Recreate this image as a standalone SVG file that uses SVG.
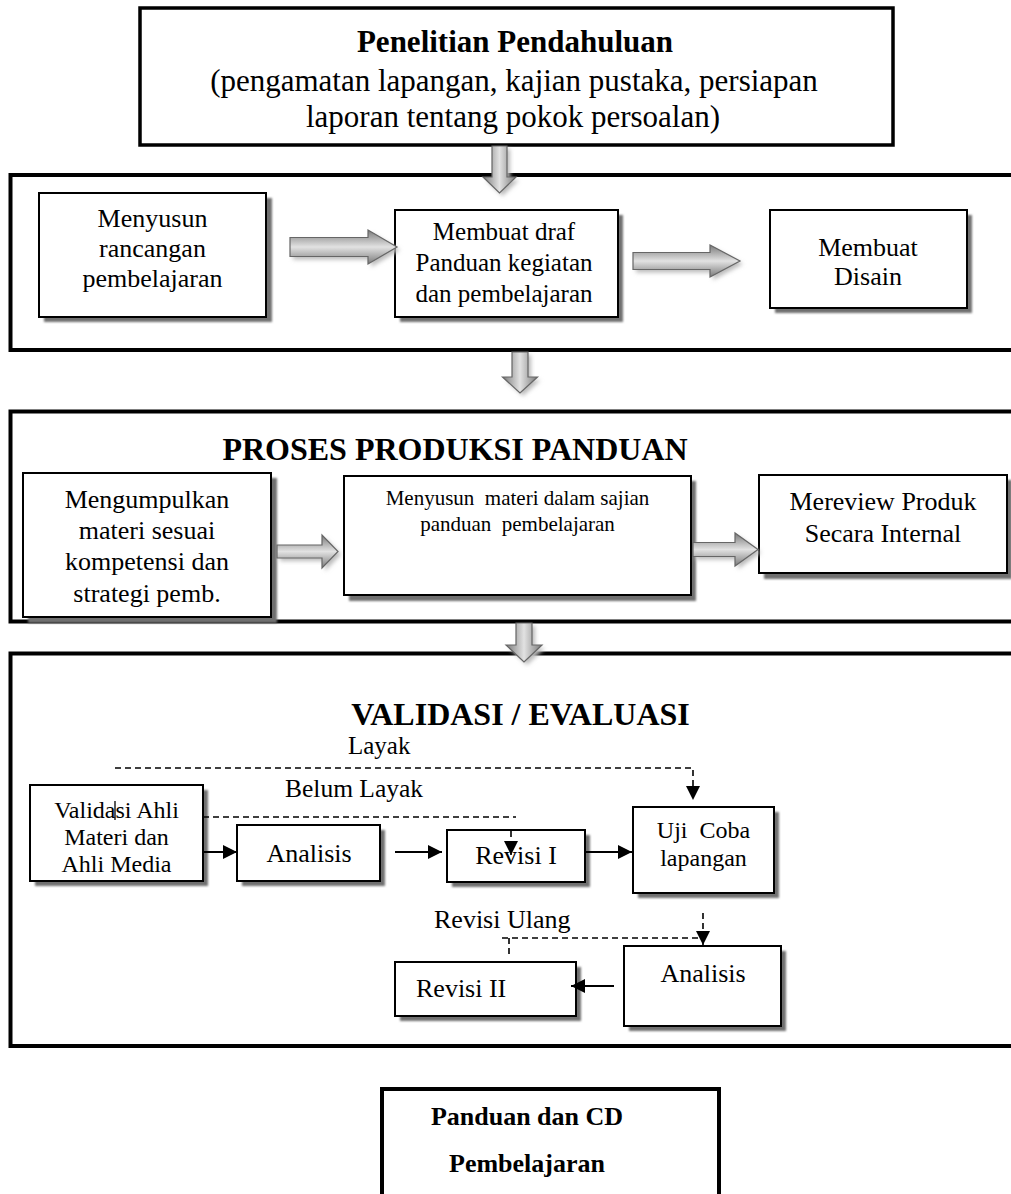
<svg xmlns="http://www.w3.org/2000/svg" width="1011" height="1194" viewBox="0 0 1011 1194">
<defs>
<style>
text{font-family:"Liberation Serif","Times New Roman",serif;fill:#000;}
.c{text-anchor:middle;}
.b{font-weight:bold;}
.panel{fill:none;stroke:#000;stroke-width:4;}
.box{fill:#fff;stroke:#000;stroke-width:2;}
.shd{fill:#707070;filter:url(#blur);}
.ha{fill:url(#gh);stroke:#666;stroke-width:1.2;}
.va{fill:url(#gv);stroke:#666;stroke-width:1.2;}
.ash{fill:#bbb;filter:url(#blur2);}
.ln{fill:none;stroke:#000;stroke-width:2;}
.dl{fill:none;stroke:#000;stroke-width:1.6;stroke-dasharray:6 4;}
</style>
<filter id="blur" x="-10%" y="-10%" width="120%" height="120%"><feGaussianBlur stdDeviation="1"/></filter>
<filter id="blur2" x="-20%" y="-20%" width="140%" height="140%"><feGaussianBlur stdDeviation="2"/></filter>
<linearGradient id="gh" x1="0" y1="0" x2="0" y2="1">
<stop offset="0" stop-color="#7a7a7a"/><stop offset="0.5" stop-color="#e2e2e2"/><stop offset="1" stop-color="#7a7a7a"/>
</linearGradient>
<linearGradient id="gv" x1="0" y1="0" x2="1" y2="0">
<stop offset="0" stop-color="#7a7a7a"/><stop offset="0.5" stop-color="#e2e2e2"/><stop offset="1" stop-color="#7a7a7a"/>
</linearGradient>
<marker id="ahs" viewBox="0 0 10 10" refX="10" refY="5" markerWidth="15" markerHeight="14" markerUnits="userSpaceOnUse" orient="auto">
<path d="M0,0 L10,5 L0,10 Z" fill="#000"/>
</marker>
</defs>

<!-- Panels -->
<g id="panel-top">
<rect x="140" y="8" width="753" height="137" class="panel" style="stroke-width:3.5"/>
<text x="515" y="52" class="c b" font-size="31">Penelitian Pendahuluan</text>
<text x="514" y="91" class="c" font-size="31">(pengamatan lapangan, kajian pustaka, persiapan</text>
<text x="513" y="127" class="c" font-size="31">laporan tentang pokok persoalan)</text>
</g>
<g id="panel-rancangan">
<rect x="10.5" y="175" width="1020" height="175" class="panel"/>
</g>
<g id="panel-produksi">
<rect x="10.5" y="411.5" width="1020" height="210" class="panel"/>
<text x="455" y="460" class="c b" font-size="32">PROSES PRODUKSI PANDUAN</text>
</g>
<g id="panel-validasi">
<rect x="10.5" y="653.5" width="1020" height="392.5" class="panel"/>
<text x="520.5" y="725" class="c b" font-size="32">VALIDASI / EVALUASI</text>
</g>

<!-- Panel 2 nodes -->
<g id="n-menyusun-rancangan">
<rect x="44" y="198" width="228" height="124" class="shd"/>
<rect x="39" y="193" width="227" height="124" class="box"/>
<text x="152.5" y="227" class="c" font-size="26">Menyusun</text>
<text x="152.5" y="257" class="c" font-size="26">rancangan</text>
<text x="152.5" y="287" class="c" font-size="26">pembelajaran</text>
</g>
<g id="n-membuat-draf">
<rect x="400" y="215" width="223" height="107" class="shd"/>
<rect x="395" y="210" width="223" height="107" class="box"/>
<text x="504" y="240" class="c" font-size="25">Membuat draf</text>
<text x="504" y="271" class="c" font-size="25">Panduan kegiatan</text>
<text x="504" y="302" class="c" font-size="25">dan pembelajaran</text>
</g>
<g id="n-membuat-disain">
<rect x="775" y="215" width="197" height="98" class="shd"/>
<rect x="770" y="210" width="197" height="98" class="box"/>
<text x="868" y="256" class="c" font-size="26">Membuat</text>
<text x="868" y="285" class="c" font-size="26">Disain</text>
</g>

<!-- Panel 3 nodes -->
<g id="n-mengumpulkan">
<rect x="28" y="478" width="249" height="145" class="shd"/>
<rect x="23" y="473" width="248" height="144" class="box"/>
<text x="147" y="508" class="c" font-size="26">Mengumpulkan</text>
<text x="147" y="539" class="c" font-size="26">materi sesuai</text>
<text x="147" y="570" class="c" font-size="26">kompetensi dan</text>
<text x="147" y="602" class="c" font-size="26">strategi pemb.</text>
</g>
<g id="n-menyusun-materi">
<rect x="349" y="481" width="347" height="120" class="shd"/>
<rect x="344" y="476" width="347" height="119" class="box"/>
<text x="517.5" y="505" class="c" font-size="21" xml:space="preserve">Menyusun  materi dalam sajian</text>
<text x="517.5" y="531" class="c" font-size="21" xml:space="preserve">panduan  pembelajaran</text>
</g>
<g id="n-mereview">
<rect x="764" y="480" width="248" height="99" class="shd"/>
<rect x="759" y="475" width="248" height="98" class="box"/>
<text x="883" y="510" class="c" font-size="26">Mereview Produk</text>
<text x="883" y="542" class="c" font-size="26">Secara Internal</text>
</g>

<!-- Panel 4 nodes -->
<g id="n-validasi-ahli">
<rect x="35" y="790" width="173" height="96" class="shd"/>
<rect x="30" y="785" width="173" height="96" class="box"/>
<text x="116.5" y="818" class="c" font-size="24">Validasi Ahli</text>
<text x="116.5" y="845" class="c" font-size="24">Materi dan</text>
<text x="116.5" y="872" class="c" font-size="24">Ahli Media</text>
</g>
<g id="n-analisis-1">
<rect x="242" y="830" width="143" height="56" class="shd"/>
<rect x="237" y="825" width="143" height="56" class="box"/>
<text x="309" y="862" class="c" font-size="26">Analisis</text>
</g>
<g id="n-revisi-1">
<rect x="452" y="835" width="138" height="52" class="shd"/>
<rect x="447" y="830" width="138" height="52" class="box"/>
<text x="516" y="864" class="c" font-size="26">Revisi I</text>
</g>
<g id="n-uji-coba">
<rect x="638" y="812" width="141" height="86" class="shd"/>
<rect x="633" y="807" width="141" height="86" class="box"/>
<text x="703.5" y="838" class="c" font-size="24" xml:space="preserve">Uji  Coba</text>
<text x="703.5" y="866" class="c" font-size="24">lapangan</text>
</g>
<g id="n-revisi-2">
<rect x="400" y="967" width="181" height="54" class="shd"/>
<rect x="395" y="962" width="181" height="54" class="box"/>
<text x="416" y="997" font-size="26">Revisi II</text>
</g>
<g id="n-analisis-2">
<rect x="629" y="951" width="157" height="80" class="shd"/>
<rect x="624" y="946" width="157" height="80" class="box"/>
<text x="703" y="982" class="c" font-size="26">Analisis</text>
</g>

<!-- Final node -->
<g id="n-panduan-cd">
<rect x="382" y="1089" width="337" height="130" fill="#fff" stroke="#000" stroke-width="4"/>
<text x="527" y="1125" class="c b" font-size="26">Panduan dan CD</text>
<text x="527" y="1172" class="c b" font-size="26">Pembelajaran</text>
</g>

<!-- Connectors -->
<g id="connectors">
<g transform="translate(3,3)">
<path class="ash" d="M290,237.5 H368 V230 L397,247 L368,264 V256.5 H290 Z"/>
<path class="ash" d="M633,252.5 H710 V245 L740,261 L710,277 V269.5 H633 Z"/>
<path class="ash" d="M277,545 H322 V535 L338,551.5 L322,568 V558 H277 Z"/>
<path class="ash" d="M693,542.5 H735 V533 L758,549.5 L735,566 V556.5 H693 Z"/>
<path class="ash" d="M492,146 V177 H483 L499.5,193 L516,177 H507 V146 Z"/>
<path class="ash" d="M512,352 V377 H502.5 L520,393 L537.5,377 H528 V352 Z"/>
<path class="ash" d="M516,623 V645 H506 L524,662 L542,645 H532 V623 Z"/>
</g>
<path class="ha" d="M290,237.5 H368 V230 L397,247 L368,264 V256.5 H290 Z"/>
<path class="ha" d="M633,252.5 H710 V245 L740,261 L710,277 V269.5 H633 Z"/>
<path class="ha" d="M277,545 H322 V535 L338,551.5 L322,568 V558 H277 Z"/>
<path class="ha" d="M693,542.5 H735 V533 L758,549.5 L735,566 V556.5 H693 Z"/>
<path class="va" d="M492,146 V177 H483 L499.5,193 L516,177 H507 V146 Z"/>
<path class="va" d="M512,352 V377 H502.5 L520,393 L537.5,377 H528 V352 Z"/>
<path class="va" d="M516,623 V645 H506 L524,662 L542,645 H532 V623 Z"/>

<line x1="203" y1="852" x2="237" y2="852" class="ln" marker-end="url(#ahs)"/>
<line x1="395" y1="852" x2="442" y2="852" class="ln" marker-end="url(#ahs)"/>
<line x1="585" y1="852" x2="632" y2="852" class="ln" marker-end="url(#ahs)"/>
<line x1="614" y1="986" x2="571" y2="986" class="ln" marker-end="url(#ahs)"/>

<path class="dl" d="M115,768 H693 V800" marker-end="url(#ahs)"/>
<line x1="115" y1="801" x2="115" y2="820" stroke="#000" stroke-width="1.3"/>
<text x="348" y="754" font-size="25">Layak</text>
<path class="dl" d="M203,817 H516"/>
<path class="dl" d="M511,831 V855" marker-end="url(#ahs)"/>
<text x="285" y="797" font-size="25.5">Belum Layak</text>
<path class="dl" d="M703,913 V945" marker-end="url(#ahs)"/>
<path class="dl" d="M502,938 H703"/>
<path class="dl" d="M509,938 V958"/>
<text x="434" y="928" font-size="26">Revisi Ulang</text>
</g>
</svg>
